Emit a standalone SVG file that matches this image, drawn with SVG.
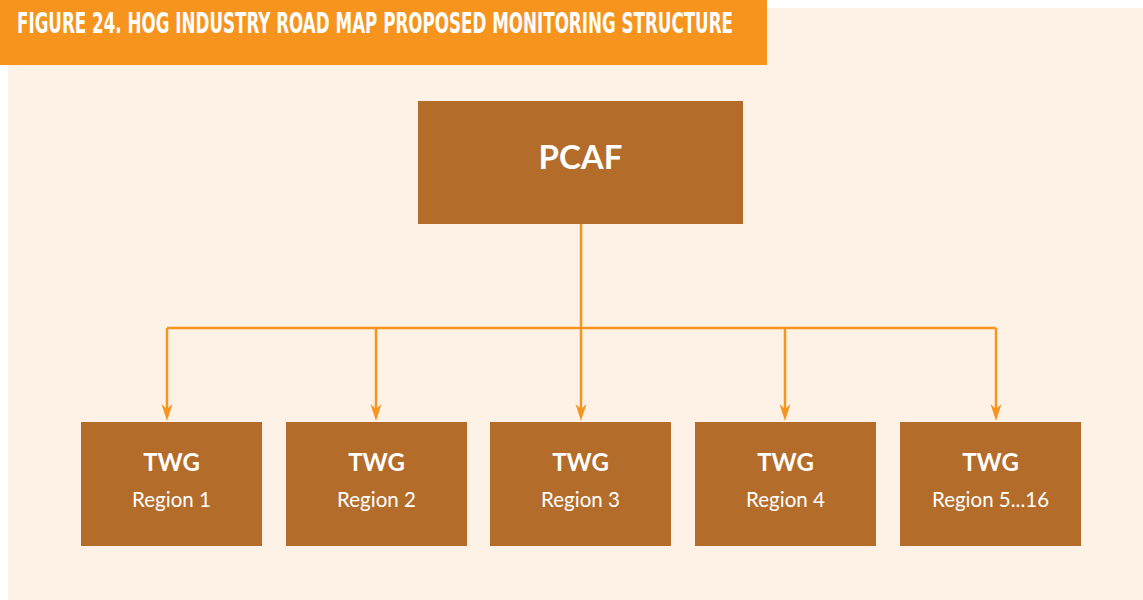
<svg xmlns="http://www.w3.org/2000/svg" width="1143" height="600" viewBox="0 0 1143 600">
  <defs>
    <style>
      .box { fill: #B46C2A; }
      .conn { fill: none; stroke: #F7941E; stroke-width: 2.5; }
      .t1 { font-family: Lato, "Noto Sans", sans-serif; font-weight: bold; fill: #FFFFFF; text-anchor: middle; font-size: 24px; }
      .big { font-size: 33px; }
      .t2 { font-family: Lato, "Noto Sans", sans-serif; fill: #FFFFFF; text-anchor: middle; font-size: 20.5px; }
      .head { fill: #F7941E; }
    </style>
  </defs>
  <rect x="0" y="0" width="1143" height="600" fill="#FFFFFF"/>
  <rect x="8" y="8" width="1135" height="592" fill="#FEF2E6"/>
  <g id="title">
    <rect x="0" y="0" width="767" height="65" fill="#F7941E"/>
    <text x="17" y="33" font-family="'DejaVu Sans Condensed', 'DejaVu Sans', sans-serif" font-weight="bold" font-size="29" fill="#FFFFFF" textLength="716" lengthAdjust="spacingAndGlyphs">FIGURE 24. HOG INDUSTRY ROAD MAP PROPOSED MONITORING STRUCTURE</text>
  </g>
  <g id="connectors">
    <path class="conn" d="M581,224 V328 M167,328 H996"/>
    <path class="conn" d="M167,328 V410"/>
    <path class="conn" d="M376,328 V410"/>
    <path class="conn" d="M581,328 V410"/>
    <path class="conn" d="M785,328 V410"/>
    <path class="conn" d="M996,328 V410"/>
    <path class="head" d="M161.5,404 L167,409 L172.5,404 L167,421 Z"/>
    <path class="head" d="M370.5,404 L376,409 L381.5,404 L376,421 Z"/>
    <path class="head" d="M575.5,404 L581,409 L586.5,404 L581,421 Z"/>
    <path class="head" d="M779.5,404 L785,409 L790.5,404 L785,421 Z"/>
    <path class="head" d="M990.5,404 L996,409 L1001.5,404 L996,421 Z"/>
  </g>
  <g id="pcaf">
    <rect class="box" x="418" y="101" width="325" height="123"/>
    <text class="t1 big" x="580.5" y="169">PCAF</text>
  </g>
  <g id="twg1">
    <rect class="box" x="81" y="422" width="181" height="124"/>
    <text class="t1" x="171.5" y="471">TWG</text>
    <text class="t2" x="171.5" y="507">Region 1</text>
  </g>
  <g id="twg2">
    <rect class="box" x="286" y="422" width="181" height="124"/>
    <text class="t1" x="376.5" y="471">TWG</text>
    <text class="t2" x="376.5" y="507">Region 2</text>
  </g>
  <g id="twg3">
    <rect class="box" x="490" y="422" width="181" height="124"/>
    <text class="t1" x="580.5" y="471">TWG</text>
    <text class="t2" x="580.5" y="507">Region 3</text>
  </g>
  <g id="twg4">
    <rect class="box" x="695" y="422" width="181" height="124"/>
    <text class="t1" x="785.5" y="471">TWG</text>
    <text class="t2" x="785.5" y="507">Region 4</text>
  </g>
  <g id="twg5">
    <rect class="box" x="900" y="422" width="181" height="124"/>
    <text class="t1" x="990.5" y="471">TWG</text>
    <text class="t2" x="990.5" y="507">Region 5...16</text>
  </g>
</svg>
